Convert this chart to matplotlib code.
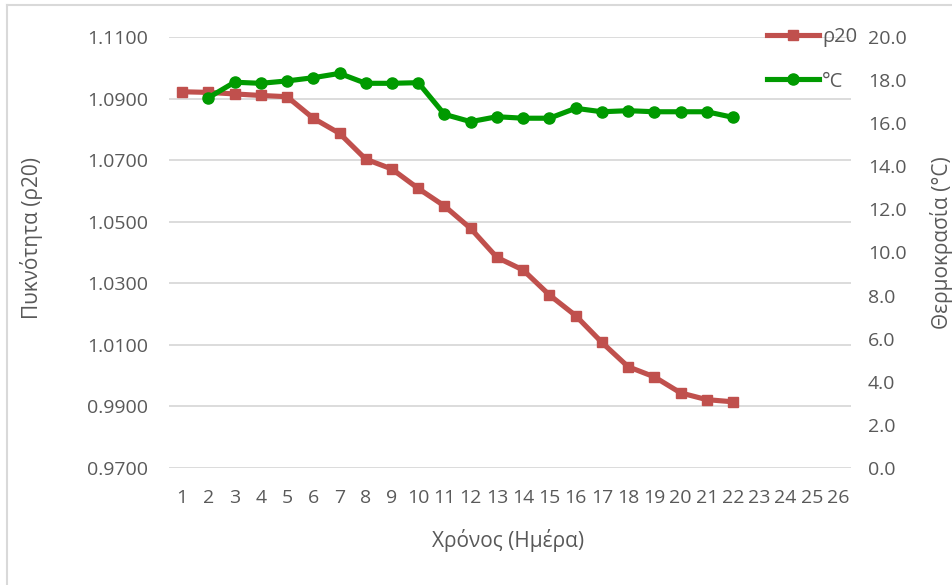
import matplotlib
matplotlib.use("Agg")
from matplotlib import pyplot as plt
from matplotlib.lines import Line2D

plt.rcParams['font.family'] = ['Open Sans', 'DejaVu Sans']

days = list(range(1, 27))

# density (ρ20), days 1-22
rho_days = list(range(1, 23))
rho20 = [1.0922, 1.0920, 1.0915, 1.0910, 1.0906, 1.0836, 1.0787, 1.0703,
         1.0671, 1.0608, 1.0551, 1.0478, 1.0384, 1.0343, 1.0262, 1.0195,
         1.0108, 1.0029, 0.9996, 0.9944, 0.9922, 0.9915]

# temperature (°C), days 2-22
temp_days = list(range(2, 23))
temp = [17.18, 17.90, 17.85, 17.96, 18.11, 18.31, 17.85, 17.85, 17.88,
        16.41, 16.07, 16.30, 16.23, 16.23, 16.69, 16.53, 16.58, 16.53,
        16.53, 16.53, 16.27]

rho_ticks = [0.97, 0.99, 1.01, 1.03, 1.05, 1.07, 1.09, 1.11]
temp_ticks = [0, 2, 4, 6, 8, 10, 12, 14, 16, 18, 20]

red = "#C0504D"
green = "#009A00"
txt = "#595959"
fs = 14

fig = plt.figure(figsize=(9.52, 5.85), dpi=100)
ax = fig.add_axes([0.1775, 0.2, 0.7165, 0.7368])
ax2 = ax.twinx()

for y in rho_ticks:
    ax.axhline(y, color="#D9D9D9", lw=1.3, zorder=0)

ax.plot(rho_days, rho20, color=red, lw=3.7, marker="s", ms=7.5, label="ρ20")
ax2.plot(temp_days, temp, color=green, lw=3.7, marker="o", ms=8, label="°C")

ax.set_xlim(0.5, 26.5)
ax.set_ylim(0.97, 1.11)
ax2.set_ylim(0, 20)
ax.set_xticks(days)
ax.set_xticklabels([str(d) for d in days])
ax.set_yticks(rho_ticks)
ax.set_yticklabels(["%.4f" % v for v in rho_ticks])
ax2.set_yticks(temp_ticks)
ax2.set_yticklabels(["%.1f" % v for v in temp_ticks])

for a in (ax, ax2):
    for s in a.spines.values():
        s.set_visible(False)
ax.tick_params(axis="both", length=0, labelsize=fs, colors=txt)
ax.tick_params(axis="y", pad=15)
ax.tick_params(axis="x", pad=15)
ax2.tick_params(axis="y", length=0, labelsize=fs, colors=txt, pad=12)

ax.set_xlabel("Χρόνος (Ημέρα)", fontsize=fs + 1, color=txt)
ax.xaxis.set_label_coords(0.497, -0.142)
ax.set_ylabel("Πυκνότητα (ρ20)", fontsize=fs + 1, color=txt)
ax.yaxis.set_label_coords(-0.184, 0.534)
ax2.set_ylabel("Θερμοκρασία (°C)", fontsize=fs + 1, color=txt, rotation=90)
ax2.yaxis.set_label_coords(1.116, 0.522)

handles = [Line2D([], [], color=red, lw=3.7, marker="s", ms=7.5),
           Line2D([], [], color=green, lw=3.7, marker="o", ms=8)]
fig.legend(handles, ["ρ20", "°C"], loc="upper left", bbox_to_anchor=(0.797, 0.967),
           frameon=False, fontsize=fs + 0.5, labelcolor=txt, handlelength=2.6,
           handletextpad=0.15, labelspacing=1.2, borderaxespad=0)

# chart border (left and top edge)
fig.add_artist(Line2D([0.0075, 0.0075], [0, 0.991], transform=fig.transFigure, color="#D9D9D9", lw=1.5))
fig.add_artist(Line2D([0.0075, 1], [0.991, 0.991], transform=fig.transFigure, color="#D9D9D9", lw=1.5))

fig.savefig("out.png", dpi=100)
